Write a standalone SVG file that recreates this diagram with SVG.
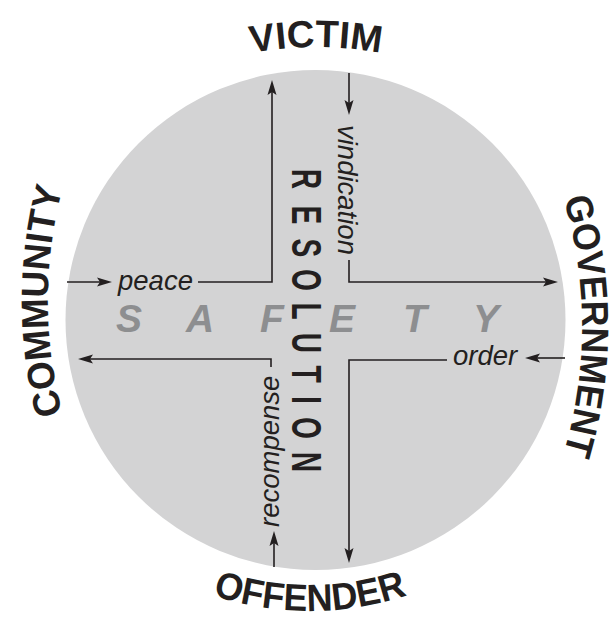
<svg xmlns="http://www.w3.org/2000/svg" width="615" height="620" viewBox="0 0 615 620">
<defs>
<style>
.lbl{font-family:"Liberation Sans",Arial,sans-serif;font-weight:bold;font-size:38px;fill:#231f20}
.it{font-family:"Liberation Sans",Arial,sans-serif;font-style:italic;font-size:27.5px;fill:#231f20}
.conn{fill:none;stroke:#231f20;stroke-width:1.6}
.res{font-family:"Liberation Sans",Arial,sans-serif;font-weight:bold;font-size:42px;fill:#231f20}
.saf{font-family:"Liberation Sans",Arial,sans-serif;font-weight:bold;font-style:italic;font-size:39px;fill:#8d8e90}
</style>
<marker id="ah" viewBox="-8 -5 16 10" refX="0" refY="0" markerWidth="16" markerHeight="10" markerUnits="userSpaceOnUse" orient="auto">
<path d="M8,0 L-7,-4.5 L-4,0 L-7,4.5 Z" fill="#231f20"/>
</marker>
<path id="arcVictim" d="M116,109.8 A350,350 0 0 1 516,109.8"/>
<path id="arcCommunity" d="M123.8,551 A450,450 0 0 1 123.8,51"/>
<path id="arcGovernment" d="M506.2,76 A450,450 0 0 1 506.2,576"/>
<path id="arcOffender" d="M110,536.9 A307,307 0 0 0 510,536.9"/>
</defs>

<g id="circle">
<circle cx="315.5" cy="320" r="250" fill="#d3d3d4"/>
</g>

<g id="safety">
<text class="saf" x="129 200 272 342 415 486" y="332" text-anchor="middle">SAFETY</text>
</g>

<g id="resolution">
<text class="res" transform="translate(292,0) rotate(90) scale(0.67,1)" x="267.2 320.9 370.1 417.9 464.2 511.9 558.2 597 638.8 689.6" y="0" text-anchor="middle">RESOLUTION</text>
</g>

<g id="victim">
<text class="lbl"><textPath href="#arcVictim" startOffset="50%" text-anchor="middle" textLength="130" lengthAdjust="spacingAndGlyphs">VICTIM</textPath></text>
</g>

<g id="community">
<text class="lbl"><textPath href="#arcCommunity" startOffset="50%" text-anchor="middle" textLength="228" lengthAdjust="spacingAndGlyphs">COMMUNITY</textPath></text>
</g>

<g id="government">
<text class="lbl"><textPath href="#arcGovernment" startOffset="50%" text-anchor="middle" textLength="258" lengthAdjust="spacingAndGlyphs">GOVERNMENT</textPath></text>
</g>

<g id="offender">
<text class="lbl"><textPath href="#arcOffender" startOffset="50%" text-anchor="middle" textLength="198" lengthAdjust="spacingAndGlyphs">OFFENDER</textPath></text>
</g>

<g id="connectors">
<path class="conn" d="M67,282 H104" marker-end="url(#ah)"/>
<path class="conn" d="M198,282 H272 V88" marker-end="url(#ah)"/>
<path class="conn" d="M349,73 V107" marker-end="url(#ah)"/>
<path class="conn" d="M349,260 V282 H550" marker-end="url(#ah)"/>
<path class="conn" d="M565,358 H533" marker-end="url(#ah)"/>
<path class="conn" d="M447,360 H349 V555" marker-end="url(#ah)"/>
<path class="conn" d="M271,367 V359 H86" marker-end="url(#ah)"/>
<path class="conn" d="M274,567 V539" marker-end="url(#ah)"/>
</g>

<g id="labels">
<text class="it" x="118" y="290">peace</text>
<text class="it" x="453" y="365">order</text>
<text class="it" transform="translate(338,125) rotate(90)">vindication</text>
<text class="it" transform="translate(279,527) rotate(-90)">recompense</text>
</g>
</svg>
